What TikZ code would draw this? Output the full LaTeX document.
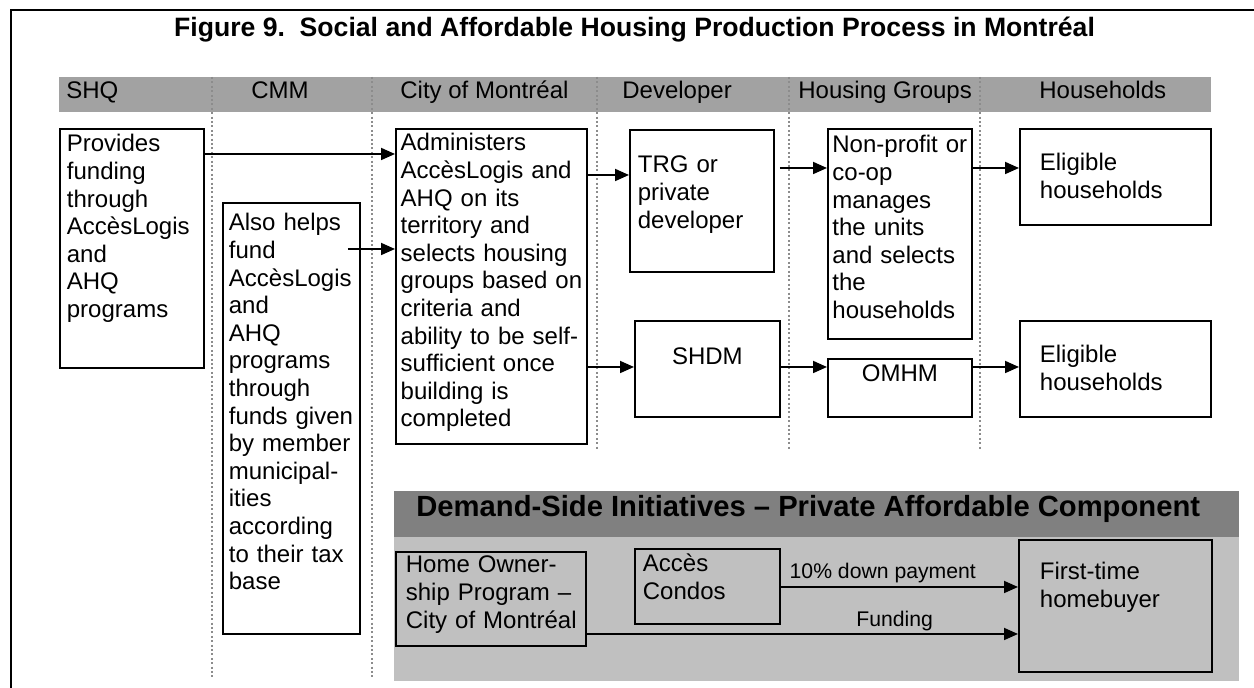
\documentclass[tikz,border=0pt]{standalone}
\usepackage{fontspec}
\setmainfont{Liberation Sans}
\usetikzlibrary{arrows.meta, positioning}

\definecolor{bandgray}{RGB}{162,162,162}
\definecolor{hdrgray}{RGB}{128,128,128}
\definecolor{bodygray}{RGB}{192,192,192}
\definecolor{sepgray}{RGB}{140,140,140}

\begin{document}
\begin{tikzpicture}[x=0.5pt, y=-0.5pt,
			box/.style={draw, line width=0.9pt, fill=white, anchor=north west, align=left,
				inner xsep=3.5pt, inner ysep=0pt, font=\fontsize{12}{13.8}\selectfont},
			arr/.style={-{Triangle[length=7pt, width=6pt]}, line width=0.9pt},
			sepl/.style={sepgray, line width=1pt, dash pattern=on 1pt off 1.2pt},
			col/.style={anchor=base west, inner sep=0pt, font=\fontsize{12}{14}\selectfont},
			lbl/.style={anchor=base, inner sep=0pt, font=\fontsize{10.6}{12}\selectfont}
			]
			\useasboundingbox (0,0) rectangle (1254,688);
			\draw[line width=0.8pt] (11,688) -- (11,10) -- (1254,10);
			
			\node[anchor=base, inner sep=0pt, font=\bfseries\fontsize{13.3}{16}\selectfont] (title) at (634.5,37)
				{Figure 9.\ \ Social and Affordable Housing Production Process in Montréal};
			
			% column headings
			\node[fill=bandgray, anchor=north west, inner sep=0pt, minimum width=576pt, minimum height=17.5pt] (band) at (59,77) {};
			\draw[sepl] (212,77) -- (212,679);
			\draw[sepl] (372,77) -- (372,679);
			\draw[sepl] (597,77) -- (597,451);
			\draw[sepl] (789,77) -- (789,451);
			\draw[sepl] (980,77) -- (980,451);
			\node[col] (hshq) at (66,99) {SHQ};
			\node[col] (hcmm) at (251,99) {CMM};
			\node[col] (hcity) at (400,99) {City of Montréal};
			\node[col] (hdev) at (622,99) {Developer};
			\node[col] (hgrp) at (798,99) {Housing Groups};
			\node[col] (hhh) at (1039,99) {Households};
			
			% supply side
			\node[box, text width=65pt, text height=11.5pt, text depth=108pt] (shq) at (59,128)
				{Provides\\funding\\through\\AccèsLogis\\and\\AHQ\\programs};
			\node[box, inner xsep=3pt, text width=62.5pt, text height=14pt, text depth=201.5pt] (cmm) at (222,202)
				{Also helps\\fund\\AccèsLogis\\and\\AHQ\\programs\\through\\funds given\\by member\\municipal-\\ities\\according\\to their tax\\base};
			\node[box, inner xsep=2.4pt, text width=90.7pt, text height=11pt, text depth=146.5pt] (city) at (395,128)
				{Administers\\AccèsLogis and\\AHQ on its\\territory and\\selects housing\\\mbox{groups based on}\\criteria and\\\mbox{ability to be self-}\\sufficient once\\building is\\completed};
			\node[box, inner xsep=4pt, text width=64pt, text height=21.5pt, text depth=49.5pt] (trg) at (629,129)
				{TRG or\\private\\developer};
			\node[box, inner xsep=2.25pt, text width=67.5pt, text height=12pt, text depth=93pt] (grp) at (827,128)
				{\mbox{Non-profit or}\\co-op\\manages\\the units\\and selects\\the\\households};
			\node[box, inner xsep=10pt, text width=75.5pt, text height=21pt, text depth=27pt] (hh1) at (1019,128)
				{Eligible\\households};
			\node[box, align=center, inner xsep=4pt, text width=64.5pt, text height=22pt, text depth=26pt] (shdm) at (634,320) {SHDM};
			\node[box, align=center, inner xsep=4pt, text width=64pt, text height=11.5pt, text depth=17.5pt] (omhm) at (827,358) {OMHM};
			\node[box, inner xsep=10pt, text width=75.5pt, text height=21pt, text depth=27pt] (hh2) at (1019,320)
				{Eligible\\households};
			
			\coordinate (a1) at ([yshift=-13pt]shq.north east);
			\coordinate (a2) at ([xshift=-6.5pt, yshift=-23.5pt]cmm.north east);
			\coordinate (a3) at ([yshift=-23.5pt]city.north east);
			\coordinate (a4) at ([xshift=2.5pt, yshift=-19.5pt]trg.north east);
			\coordinate (a5) at ([yshift=-20pt]grp.north east);
			\coordinate (a6) at ([yshift=-119.5pt]city.north east);
			\coordinate (a7) at ([yshift=-23.5pt]shdm.north east);
			\coordinate (a8) at ([yshift=-4.5pt]omhm.north east);
			\draw[arr] (a1) -- (a1 -| city.west);
			\draw[arr] (a2) -- (a2 -| city.west);
			\draw[arr] (a3) -- (a3 -| trg.west);
			\draw[arr] (a4) -- (a4 -| grp.west);
			\draw[arr] (a5) -- (a5 -| hh1.west);
			\draw[arr] (a6) -- (a6 -| shdm.west);
			\draw[arr] (a7) -- (a7 -| omhm.west);
			\draw[arr] (a8) -- (a8 -| hh2.west);
			
			% demand side
			\node[fill=hdrgray, anchor=north west, inner sep=0pt, minimum width=422.5pt, minimum height=23pt] (dhead) at (394,491) {};
			\node[fill=bodygray, anchor=north west, inner sep=0pt, minimum width=422.5pt, minimum height=72pt] (dbody) at (394,537) {};
			\node[anchor=base west, inner sep=0pt, font=\bfseries\fontsize{14.6}{17}\selectfont] (dtitle) at (416,517)
				{Demand-Side Initiatives – Private Affordable Component};
			\node[box, fill=bodygray, inner xsep=5pt, text width=85pt, text height=10.5pt, text depth=36.5pt] (hop) at (395,551)
				{Home Owner-\\ship Program –\\\mbox{City of Montréal}};
			\node[box, fill=bodygray, inner xsep=4pt, text width=64.5pt, text height=11.5pt, text depth=26pt] (condo) at (634,548)
				{Accès\\Condos};
			\node[box, fill=bodygray, inner xsep=10.5pt, text width=75.5pt, text height=20pt, text depth=46pt] (buyer) at (1018,539)
				{First-time\\homebuyer};
			
			\coordinate (a9) at ([yshift=-19.5pt]condo.north east);
			\coordinate (a10) at ([yshift=-41.5pt]hop.north east);
			\draw[arr] (a9) -- node[lbl, pos=.43, yshift=4pt] (ldown) {10\% down payment} (a9 -| buyer.west);
			\draw[arr] (a10) -- node[lbl, pos=.714, yshift=3.5pt] (lfund) {Funding} (a10 -| buyer.west);
	\end{tikzpicture}
\end{document}
